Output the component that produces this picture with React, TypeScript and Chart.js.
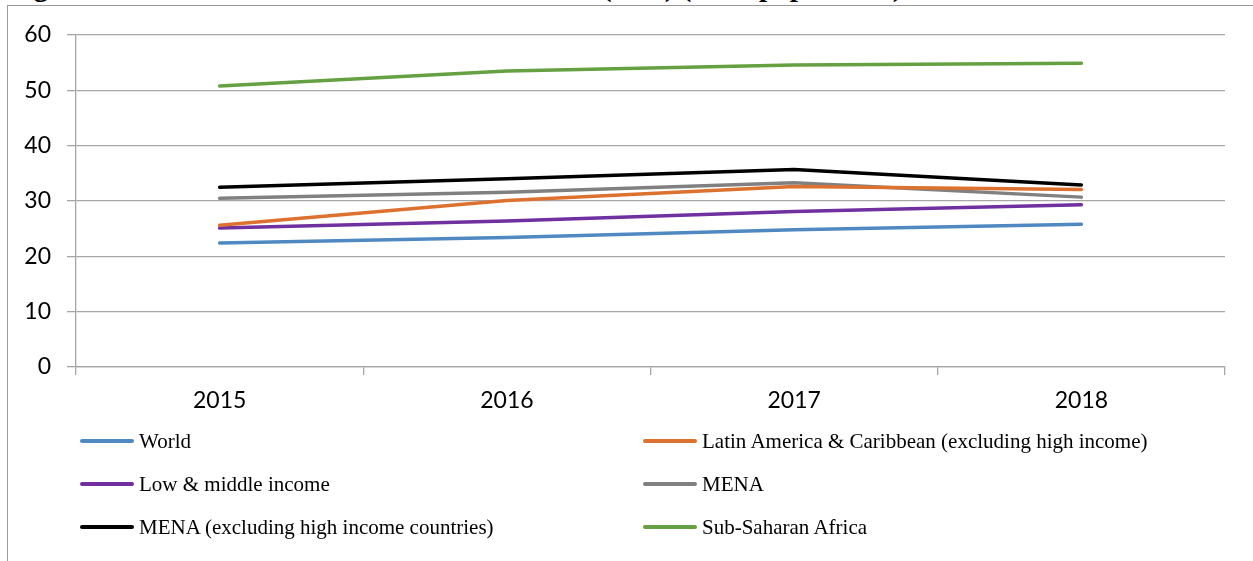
import React, { useEffect, useRef } from "react";
import { Chart, registerables } from "chart.js";

Chart.register(...registerables);

const years = ["2015", "2016", "2017", "2018"];

const seriesNames = [
  "World",
  "Latin America & Caribbean (excluding high income)",
  "Low & middle income",
  "MENA",
  "MENA (excluding high income countries)",
  "Sub-Saharan Africa",
];

const world = [22.4, 23.4, 24.8, 25.8];
const latinAmerica = [25.6, 30.1, 32.6, 32.1];
const lowMiddle = [25.1, 26.4, 28.1, 29.3];
const mena = [30.5, 31.6, 33.3, 30.7];
const menaExclHigh = [32.5, 34.0, 35.7, 32.9];
const subSaharan = [50.8, 53.5, 54.6, 54.9];

const seriesValues = [world, latinAmerica, lowMiddle, mena, menaExclHigh, subSaharan];
const seriesColors = ["#5089c2", "#dc7130", "#7030a0", "#808080", "#000000", "#65a042"];

const yTicks = [0, 10, 20, 30, 40, 50, 60];

const W = 1253;
const H = 561;

export default function App() {
  const canvasRef = useRef<HTMLCanvasElement | null>(null);

  useEffect(() => {
    const canvas = canvasRef.current;
    if (!canvas) return;
    const chart = new Chart(canvas, {
      type: "line",
      data: {
        labels: years,
        datasets: seriesNames.map((name, i) => ({
          label: name,
          data: seriesValues[i],
          borderColor: seriesColors[i],
          backgroundColor: seriesColors[i],
          borderWidth: 3.5,
          borderCapStyle: "round" as const,
          borderJoinStyle: "round" as const,
          pointRadius: 0,
          pointHoverRadius: 0,
          tension: 0,
          fill: false,
        })),
      },
      options: {
        responsive: false,
        animation: false,
        events: [],
        layout: { padding: { left: 0, top: 35, right: W - 1225, bottom: H - 367 - 50 } },
        plugins: {
          legend: { display: false },
          title: { display: false },
          tooltip: { enabled: false },
        },
        scales: {
          x: {
            type: "category",
            offset: true,
            grid: {
              offset: true,
              drawOnChartArea: false,
              drawTicks: true,
              tickLength: 8,
              color: "#a6a6a6",
              lineWidth: 1.3,
            },
            border: { display: true, color: "#a6a6a6", width: 1.3 },
            ticks: {
              color: "#000",
              font: { family: "Lato", size: 23 },
              padding: 12,
              maxRotation: 0,
            },
            afterFit: (scale: any) => {
              scale.height = 50;
            },
          },
          y: {
            min: 0,
            max: 60,
            afterBuildTicks: (scale: any) => {
              scale.ticks = yTicks.map((v) => ({ value: v }));
            },
            grid: {
              drawTicks: true,
              tickLength: 9,
              color: "#a6a6a6",
              lineWidth: 1.3,
            },
            border: { display: true, color: "#a6a6a6", width: 1.3 },
            ticks: {
              color: "#000",
              font: { family: "Lato", size: 23 },
              padding: 16,
            },
            afterFit: (scale: any) => {
              scale.width = 76;
            },
          },
        },
      },
    });
    return () => chart.destroy();
  }, []);

  const legendLeft = [80, 643];
  const legendRows = [441, 484, 527];
  const titleFont = "bold 29px 'Liberation Serif', 'Times New Roman', serif";

  return (
    <div
      style={{
        position: "absolute",
        left: 0,
        top: 0,
        width: W,
        height: H,
        overflow: "hidden",
        background: "#fff",
      }}
    >
      <div
        style={{
          position: "absolute",
          left: 7,
          top: 5,
          width: W,
          height: H,
          borderLeft: "1.5px solid #9a9a9a",
          borderTop: "1.5px solid #9a9a9a",
        }}
      />
      <div
        style={{
          position: "absolute",
          left: 8,
          top: -28,
          font: titleFont,
          lineHeight: "29px",
          whiteSpace: "nowrap",
          color: "#000",
        }}
      >
        Figure 5: Prevalence of undernourishment
      </div>
      <div
        style={{
          position: "absolute",
          left: 602,
          top: -28,
          font: titleFont,
          lineHeight: "29px",
          whiteSpace: "nowrap",
          color: "#000",
        }}
      >
        (PoU) (% of population)
      </div>
      <canvas
        ref={canvasRef}
        width={W}
        height={H}
        style={{ position: "absolute", left: 0, top: 0, width: W, height: H }}
      />
      {seriesNames.map((name, i) => {
        const col = i % 2;
        const row = Math.floor(i / 2);
        return (
          <div
            key={name}
            style={{
              position: "absolute",
              left: legendLeft[col],
              top: legendRows[row] - 14,
              height: 28,
              display: "flex",
              alignItems: "center",
              whiteSpace: "nowrap",
              font: "21px 'Liberation Serif', 'Times New Roman', serif",
              color: "#000",
            }}
          >
            <span
              style={{
                display: "inline-block",
                width: 54,
                height: 4,
                borderRadius: 2,
                background: seriesColors[i],
                marginRight: 5,
              }}
            />
            <span>{name}</span>
          </div>
        );
      })}
    </div>
  );
}
